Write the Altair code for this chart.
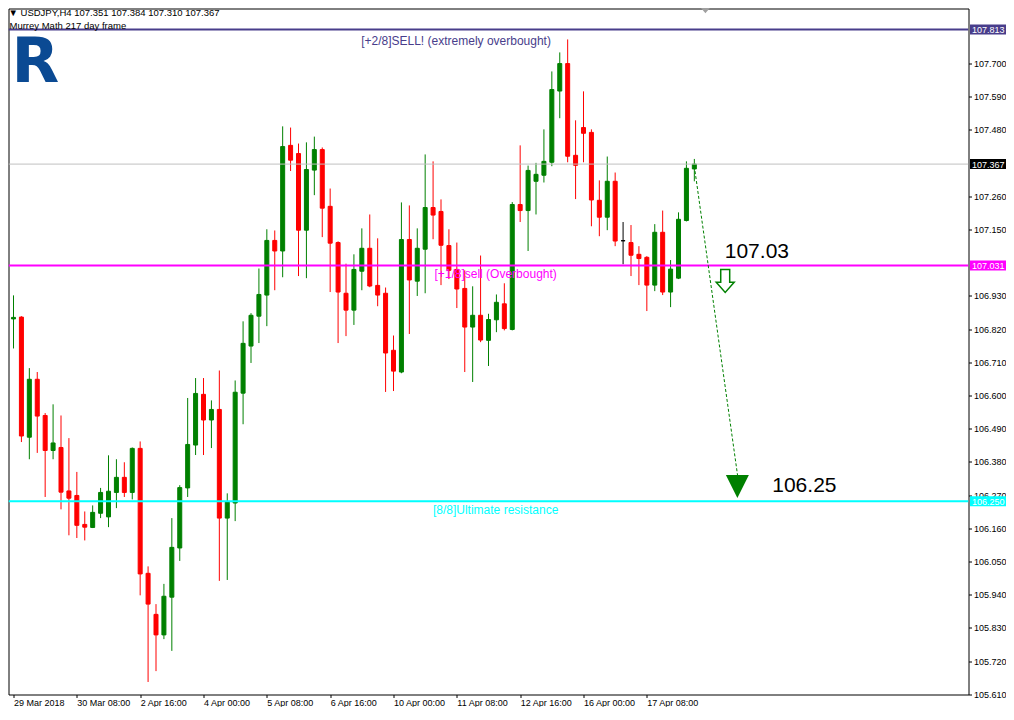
import json
import altair as alt
import pandas as pd

# ---------------- data (USDJPY H4) ----------------
opens = [106.854, 106.860, 106.462, 106.654, 106.534, 106.418, 106.428, 106.284, 106.269, 106.173,
         106.163, 106.210, 106.198, 106.279, 106.329, 106.279, 106.425, 106.011, 105.875, 105.807,
         105.932, 106.095, 106.294, 106.436, 106.604, 106.519, 106.554, 106.194, 106.244, 106.608,
         106.764, 106.863, 106.933, 107.114, 107.079, 107.429, 107.402, 107.148, 107.347, 107.415,
         107.227, 107.107, 106.939, 106.883, 107.012, 107.088, 106.965, 106.939, 106.750, 106.678,
         107.117, 106.979, 107.085, 107.223, 107.210, 107.097, 107.018, 106.955, 106.827, 106.866,
         106.783, 106.851, 106.904, 106.819, 107.233, 107.213, 107.310, 107.330, 107.373, 107.609,
         107.700, 107.396, 107.488, 107.472, 107.247, 107.191, 107.310, 107.113, 107.107, 107.068,
         107.058, 106.966, 107.141, 106.943, 106.989, 107.180, 107.351]
highs = [106.932, 106.863, 106.691, 106.678, 106.542, 106.571, 106.534, 106.459, 106.347, 106.216,
         106.236, 106.294, 106.402, 106.389, 106.379, 106.428, 106.448, 106.034, 105.909, 105.976,
         106.194, 106.303, 106.592, 106.658, 106.658, 106.584, 106.683, 106.276, 106.650, 106.846,
         106.873, 107.021, 107.151, 107.147, 107.492, 107.488, 107.435, 107.439, 107.458, 107.422,
         107.286, 107.111, 107.037, 107.068, 107.154, 107.200, 107.121, 106.958, 106.799, 107.240,
         107.230, 107.154, 107.399, 107.376, 107.250, 107.151, 107.107, 107.015, 106.962, 107.064,
         106.871, 106.935, 106.972, 107.241, 107.429, 107.362, 107.371, 107.482, 107.674, 107.737,
         107.780, 107.512, 107.608, 107.482, 107.313, 107.392, 107.339, 107.175, 107.165, 107.095,
         107.062, 107.168, 107.213, 107.049, 107.207, 107.376, 107.384]
lows = [106.756, 106.446, 106.389, 106.410, 106.264, 106.389, 106.223, 106.137, 106.128, 106.120,
        106.161, 106.194, 106.164, 106.227, 106.264, 106.256, 105.938, 105.651, 105.687, 105.793,
        105.754, 106.052, 106.264, 106.403, 106.403, 106.426, 105.986, 105.989, 106.184, 106.505,
        106.708, 106.774, 106.830, 106.949, 106.992, 107.344, 106.996, 106.989, 107.264, 107.125,
        106.943, 106.774, 106.797, 106.834, 106.949, 106.959, 106.896, 106.612, 106.615, 106.674,
        106.804, 106.930, 106.939, 107.118, 106.966, 106.986, 106.890, 106.678, 106.645, 106.777,
        106.698, 106.810, 106.816, 106.816, 107.175, 107.079, 107.200, 107.306, 107.360, 107.519,
        107.373, 107.251, 107.373, 107.161, 107.128, 107.148, 107.095, 107.035, 106.996, 106.966,
        106.880, 106.946, 106.933, 106.893, 106.986, 107.177, 107.310]
closes = [106.859, 106.466, 106.654, 106.532, 106.418, 106.443, 106.280, 106.260, 106.170, 106.164,
          106.213, 106.279, 106.283, 106.329, 106.279, 106.425, 106.009, 105.909, 105.807, 105.935,
          106.097, 106.295, 106.438, 106.607, 106.519, 106.554, 106.194, 106.247, 106.611, 106.773,
          106.866, 106.935, 107.114, 107.079, 107.425, 107.380, 107.148, 107.349, 107.415, 107.221,
          107.105, 106.943, 106.883, 107.018, 107.088, 106.963, 106.933, 106.741, 106.681, 107.117,
          106.983, 107.088, 107.223, 107.198, 107.098, 107.015, 106.953, 106.827, 106.866, 106.784,
          106.852, 106.909, 106.822, 107.233, 107.213, 107.346, 107.333, 107.376, 107.614, 107.700,
          107.393, 107.363, 107.469, 107.248, 107.191, 107.310, 107.112, 107.113, 107.065, 107.054,
          106.966, 107.141, 106.943, 107.019, 107.184, 107.353, 107.367]

tick_index = [0, 8, 16, 24, 32, 40, 48, 56, 64, 72, 80]
tick_labels = ["29 Mar 2018", "30 Mar 08:00", "2 Apr 16:00", "4 Apr 00:00", "5 Apr 08:00",
               "6 Apr 16:00", "10 Apr 00:00", "11 Apr 08:00", "12 Apr 16:00", "16 Apr 00:00",
               "17 Apr 08:00"]
# tick labels visible on the price scale (107.04, 107.37, 107.81 are hidden under price tags)
price_ticks = [105.61, 105.72, 105.83, 105.94, 106.05, 106.16, 106.27, 106.38, 106.49, 106.60,
               106.71, 106.82, 106.93, 107.15, 107.26, 107.48, 107.59, 107.70]

level_prices = [107.813, 107.031, 106.250]
level_names = ["[+2/8]SELL! (extremely overbought)", "[+1/8]sell (Overbought)", "[8/8]Ultimate resistance"]
level_colors = ["#483D8B", "#FF00FF", "#00FFFF"]
level_label_index = [55.9, 60.9, 60.9]
bid_price = 107.367

tag_prices = [107.813, 107.367, 107.031, 106.250]
tag_texts = ["107.813", "107.367", "107.031", "106.250"]
tag_colors = ["#483D8B", "#000000", "#FF00FF", "#00FFFF"]

target_texts = ["107.03", "106.25"]
target_index = [93.9, 99.9]
target_prices = [107.031, 106.250]

forecast_index = [86, 91.46]
forecast_prices = [107.36, 106.336]
arrow_index = [89.9]
arrow_price = [106.980]
triangle_index = [91.44]
triangle_price = [106.299]

header = "\u25BC USDJPY,H4  107.351 107.384 107.310 107.367"
subheader = "Murrey Math 217 day frame"

# ---------------- frames ----------------
n = len(opens)
df = pd.DataFrame({"i": list(range(n)), "open": opens, "high": highs, "low": lows, "close": closes})
df["dir"] = ["up" if c > o else ("down" if c < o else "flat") for o, c in zip(opens, closes)]

FONT = "Liberation Sans"
VIEW_W, VIEW_H = 960, 686
xscale = alt.Scale(domain=[0, 120], nice=False, zero=False)
yscale = alt.Scale(domain=[105.6095, 107.8825], nice=False, zero=False)
xaxis = alt.Axis(values=tick_index, labelExpr=json.dumps(tick_labels) + "[round(datum.value / 8)]",
                 labelAlign="left", labelBaseline="alphabetic", labelPadding=7.5, tickSize=3,
                 labelFlush=False, labelOverlap=False, title=None, grid=False, domain=False,
                 labelFont=FONT, labelFontSize=9, labelColor="#000000", tickColor="#000000")
yaxis = alt.Axis(values=price_ticks, format=".3f", orient="right", tickSize=3, labelPadding=2,
                 labelOverlap=False, labelFlush=False, title=None, grid=False, domain=False,
                 labelFont=FONT, labelFontSize=9, labelColor="#000000", tickColor="#000000",
                 labelBaseline="middle")


def X(f):
    return alt.X(f, scale=xscale, axis=xaxis)


def Y(f):
    return alt.Y(f, scale=yscale, axis=yaxis)


dir_scale = alt.Scale(domain=["up", "down", "flat"], range=["#008000", "#FF0000", "#000000"])
base = alt.Chart(df)
wicks = base.mark_rule(strokeWidth=1, clip=True).encode(
    x=X("i:Q"), y=Y("low:Q"), y2="high:Q",
    color=alt.Color("dir:N", scale=dir_scale, legend=None))
bodies = base.mark_bar(size=4, strokeWidth=1, clip=True).encode(
    x=X("i:Q"), y=Y("open:Q"), y2="close:Q",
    color=alt.Color("dir:N", scale=dir_scale, legend=None),
    stroke=alt.Stroke("dir:N", scale=dir_scale, legend=None))

lv = pd.DataFrame({"p": level_prices, "name": level_names, "col": level_colors, "li": level_label_index})
level_lines = alt.Chart(lv).mark_rule(strokeWidth=2, clip=True).encode(
    y=Y("p:Q"), color=alt.Color("col:N", scale=None))
bid_line = alt.Chart(pd.DataFrame({"p": [bid_price]})).mark_rule(
    strokeWidth=1, color="#C0C0C0", clip=True).encode(y=Y("p:Q"))

level_dy = [11.5, 8.5, 8.7]
level_texts = []
for k in range(3):
    level_texts.append(
        alt.Chart(lv.iloc[[k]]).mark_text(font=FONT, fontSize=12, align="center", baseline="middle",
                                          dy=level_dy[k]).encode(
            x=X("li:Q"), y=Y("p:Q"), text="name:N", color=alt.Color("col:N", scale=None)))

tg = pd.DataFrame({"p": tag_prices, "t": tag_texts, "col": tag_colors})
tags = alt.Chart(tg).transform_calculate(lo="datum.p - 0.0166", hi="datum.p + 0.0166").mark_rect().encode(
    x=alt.value(VIEW_W + 1.5), x2=alt.value(VIEW_W + 37.5), y=Y("lo:Q"), y2="hi:Q",
    color=alt.Color("col:N", scale=None))
tag_text = alt.Chart(tg).mark_text(font=FONT, fontSize=9, align="left", baseline="middle",
                                   color="#FFFFFF", dy=0.5).encode(
    x=alt.value(VIEW_W + 3.5), y=Y("p:Q"), text="t:N")

tt = pd.DataFrame({"i": target_index, "p": target_prices, "t": target_texts})
tdy = [-13, -15]
target_marks = []
for k in range(2):
    target_marks.append(alt.Chart(tt.iloc[[k]]).mark_text(
        font=FONT, fontSize=21, align="center", baseline="middle", color="#000000", dy=tdy[k]).encode(
        x=X("i:Q"), y=Y("p:Q"), text="t:N"))

fc = pd.DataFrame({"i": forecast_index, "p": forecast_prices})
forecast = alt.Chart(fc).mark_line(color="#008000", strokeWidth=1, strokeDash=[3, 2]).encode(
    x=X("i:Q"), y=Y("p:Q"))

arrow_path = "M-0.39,-1L0.39,-1L0.39,0.13L0.78,0.13L0,1L-0.78,0.13L-0.39,0.13Z"
arrow = alt.Chart(pd.DataFrame({"i": arrow_index, "p": arrow_price})).mark_point(
    shape=arrow_path, size=529, filled=True, fill="#FFFFFF", stroke="#008000", strokeWidth=1.5,
    opacity=1).encode(x=X("i:Q"), y=Y("p:Q"))
tri = alt.Chart(pd.DataFrame({"i": triangle_index, "p": triangle_price})).mark_point(
    shape="M-1,-1L1,-1L0,1Z", size=529, filled=True, color="#008000", opacity=1).encode(
    x=X("i:Q"), y=Y("p:Q"))

marker = alt.Chart(pd.DataFrame({"i": [87.4], "p": [107.876]})).mark_point(
    shape="M-1,-0.6L1,-0.6L0,0.6Z", size=90, filled=True, color="#A0A0A0", opacity=1).encode(
    x=X("i:Q"), y=Y("p:Q"))

hdr = alt.Chart(pd.DataFrame({"t": [header]})).mark_text(
    font=FONT, fontSize=9.5, align="left", baseline="alphabetic", color="#000000").encode(
    x=alt.value(0), y=alt.value(7.5), text="t:N")
sub = alt.Chart(pd.DataFrame({"t": [subheader]})).mark_text(
    font=FONT, fontSize=9.5, align="left", baseline="alphabetic", color="#000000").encode(
    x=alt.value(1), y=alt.value(20), text="t:N")
logo = alt.Chart(pd.DataFrame({"t": ["R"]})).mark_text(
    font="DejaVu Sans", fontWeight="bold", fontSize=62, align="left", baseline="alphabetic",
    color="#0B4A93").encode(x=alt.value(3), y=alt.value(73.5), text="t:N")

chart = alt.layer(
    wicks, bodies, bid_line, level_lines, *level_texts, forecast, arrow, tri, *target_marks,
    tags, tag_text, marker, hdr, sub, logo
).properties(
    width=VIEW_W, height=VIEW_H,
    autosize=alt.AutoSizeParams(type="none"),
    padding={"left": 0.5, "top": 0.5, "right": 37.5, "bottom": 12.5},
    background="#FFFFFF",
).configure_view(stroke="#000000", strokeWidth=1, fill="#FFFFFF")

chart.save("out.html", embed_options={"renderer": "svg", "actions": False})
